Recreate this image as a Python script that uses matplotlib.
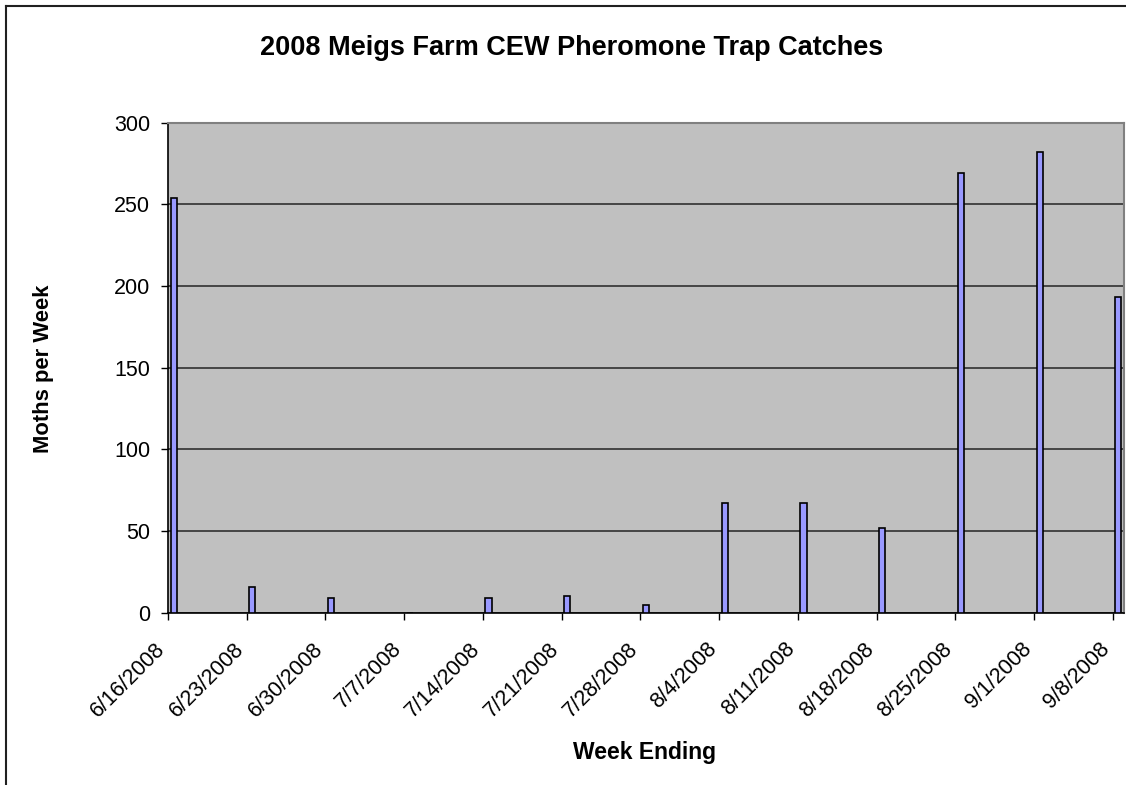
import numpy as np
import matplotlib.pyplot as plt
import matplotlib.dates as mdates
import matplotlib.transforms as mtransforms
from matplotlib.lines import Line2D

plt.rcParams['font.family'] = ['Liberation Sans', 'DejaVu Sans']

# Weekly trap data
weeks = ['6/16/2008', '6/23/2008', '6/30/2008', '7/7/2008', '7/14/2008',
         '7/21/2008', '7/28/2008', '8/4/2008', '8/11/2008', '8/18/2008',
         '8/25/2008', '9/1/2008', '9/8/2008']
moths = [254, 16, 9, 0, 9, 10, 5, 67, 67, 52, 269, 282, 193]

days = mdates.datestr2num(weeks)

W, H = 1126, 785
fig = plt.figure(figsize=(W / 100, H / 100), dpi=100)
fig.patch.set_facecolor('white')

ax = fig.add_axes([168 / W, (H - 612.7) / H, (1124 - 168) / W, (612.7 - 122.7) / H])
ax.set_facecolor('#C0C0C0')

# Excel date axis: one slot per day, bar sits in the middle of the day slot
ax.bar(days + 0.5, moths, width=0.55, color='#9999FF', edgecolor='black',
       linewidth=1.2, zorder=3)

ax.set_xlim(days[0], days[-1] + 1)
ax.set_ylim(0, 300)
ax.set_yticks(np.arange(0, 301, 50))
ax.set_xticks(days)
ax.set_xticklabels(weeks, rotation=45, ha='right', va='baseline',
                   rotation_mode='anchor', fontsize=15.5)
ax.tick_params(axis='y', labelsize=15.5, direction='out', length=4.75, width=1, pad=8)
ax.tick_params(axis='x', direction='out', length=4.75, width=1, pad=22)

# nudge the rotated labels a little left, like Excel does
shift = mtransforms.ScaledTranslation(-2 / 100, 0, fig.dpi_scale_trans)
for lab in ax.get_xticklabels():
    lab.set_transform(lab.get_transform() + shift)

ax.yaxis.grid(True, color='#303030', linewidth=1.2, zorder=1)
ax.set_axisbelow(True)

for side in ['top', 'right']:
    ax.spines[side].set_color('#808080')
    ax.spines[side].set_linewidth(1.5)
for side in ['left', 'bottom']:
    ax.spines[side].set_color('black')
    ax.spines[side].set_linewidth(1.2)

fig.text(572 / W, 1 - 48 / H, '2008 Meigs Farm CEW Pheromone Trap Catches',
         ha='center', va='center', fontsize=19.5, fontweight='bold')
fig.text(44 / W, 1 - 369 / H, 'Moths per Week', ha='center', va='center',
         rotation=90, fontsize=15.8, fontweight='bold')
fig.text(644.5 / W, 1 - 753 / H, 'Week Ending', ha='center', va='center',
         fontsize=16.5, fontweight='bold')

# chart area border (top and left visible)
fig.add_artist(Line2D([6 / W, 1], [1 - 6 / H, 1 - 6 / H], color='#202020', linewidth=1.5))
fig.add_artist(Line2D([6 / W, 6 / W], [0, 1 - 6 / H], color='#202020', linewidth=1.5))

fig.savefig('out.png', dpi=100)
